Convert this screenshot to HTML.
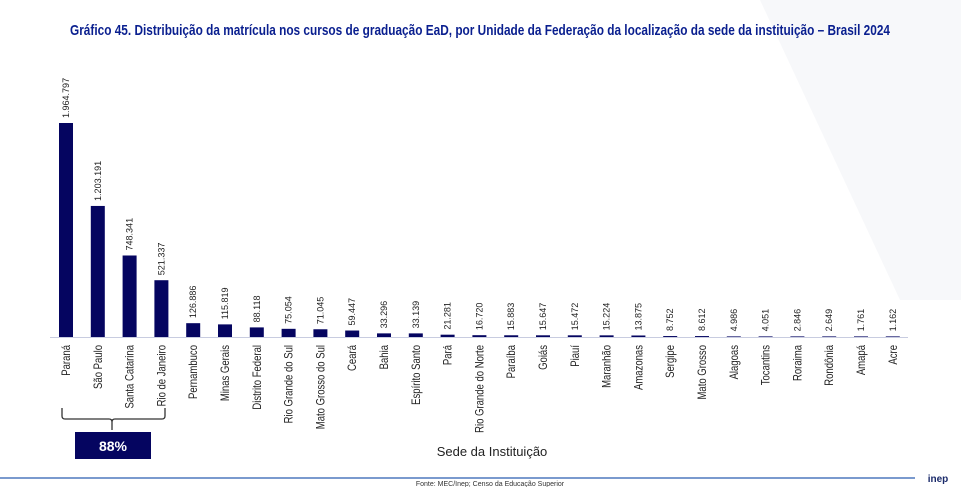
<!DOCTYPE html>
<html><head><meta charset="utf-8"><style>
html,body{margin:0;padding:0;background:#fff;}
svg{display:block;}
.t{font-family:"Liberation Sans Narrow","Liberation Sans",sans-serif;}
</style></head><body>
<svg width="961" height="487" viewBox="0 0 961 487" xmlns="http://www.w3.org/2000/svg">
<rect width="961" height="487" fill="#fff"/>
<g fill="#f7f8fa">
<polygon points="760,0 961,0 961,300 900,300"/>
</g>
<text class="t" x="480" y="35" text-anchor="middle" font-size="15" font-weight="bold" fill="#0a1f8f" textLength="820" lengthAdjust="spacingAndGlyphs">Gráfico 45. Distribuição da matrícula nos cursos de graduação EaD, por Unidade da Federação da localização da sede da instituição – Brasil 2024</text>
<line x1="50" y1="337.5" x2="908" y2="337.5" stroke="#c8cce0" stroke-width="1"/>
<g id="bars"></g>
<path d="M62,408 v8 q0,3 3,3 h44 q3,0 3,3 v8 M112,422 q0,-3 3,-3 h47 q3,0 3,-3 v-8" fill="none" stroke="#333" stroke-width="1.3"/>
<rect x="75" y="432" width="76" height="27" fill="#050560"/>
<text x="113" y="451" text-anchor="middle" font-family="Liberation Sans,sans-serif" font-weight="bold" font-size="14" fill="#fff">88%</text>
<text x="492" y="456" text-anchor="middle" font-family="Liberation Sans,sans-serif" font-size="13" fill="#222">Sede da Instituição</text>
<line x1="0" y1="478" x2="915" y2="478" stroke="#2a5db0" stroke-width="1.2"/>
<text class="t" x="490" y="486" text-anchor="middle" font-size="7" fill="#333">Fonte: MEC/Inep; Censo da Educação Superior</text>
<text x="938" y="482" text-anchor="middle" font-family="Liberation Sans,sans-serif" font-weight="bold" font-size="10" fill="#1a2a6a">inep</text>
</svg>
<script>
var d=[["Paraná",1964797,"1.964.797"],["São Paulo",1203191,"1.203.191"],["Santa Catarina",748341,"748.341"],["Rio de Janeiro",521337,"521.337"],["Pernambuco",126886,"126.886"],["Minas Gerais",115819,"115.819"],["Distrito Federal",88118,"88.118"],["Rio Grande do Sul",75054,"75.054"],["Mato Grosso do Sul",71045,"71.045"],["Ceará",59447,"59.447"],["Bahia",33296,"33.296"],["Espírito Santo",33139,"33.139"],["Pará",21281,"21.281"],["Rio Grande do Norte",16720,"16.720"],["Paraíba",15883,"15.883"],["Goiás",15647,"15.647"],["Piauí",15472,"15.472"],["Maranhão",15224,"15.224"],["Amazonas",13875,"13.875"],["Sergipe",8752,"8.752"],["Mato Grosso",8612,"8.612"],["Alagoas",4986,"4.986"],["Tocantins",4051,"4.051"],["Roraima",2846,"2.846"],["Rondônia",2649,"2.649"],["Amapá",1761,"1.761"],["Acre",1162,"1.162"]];
var g=document.getElementById("bars"),s="",b=337,k=214/1964797;
d.forEach(function(e,i){var cx=66+i*31.8,h=Math.max(e[1]*k,0.6),y=b-h;
s+='<rect x="'+(cx-7)+'" y="'+y+'" width="14" height="'+h+'" fill="#050560"/>';
s+='<text class="t" transform="translate('+(cx+3)+','+(y-5)+') rotate(-90) scale(0.95,1)" font-size="9.5" fill="#222">'+e[2]+'</text>';
s+='<text class="t" transform="translate('+(cx+4)+',345) rotate(-90) scale(0.83,1)" text-anchor="end" font-size="11.5" fill="#222">'+e[0]+'</text>';});
g.innerHTML=s;
</script>
</body></html>
